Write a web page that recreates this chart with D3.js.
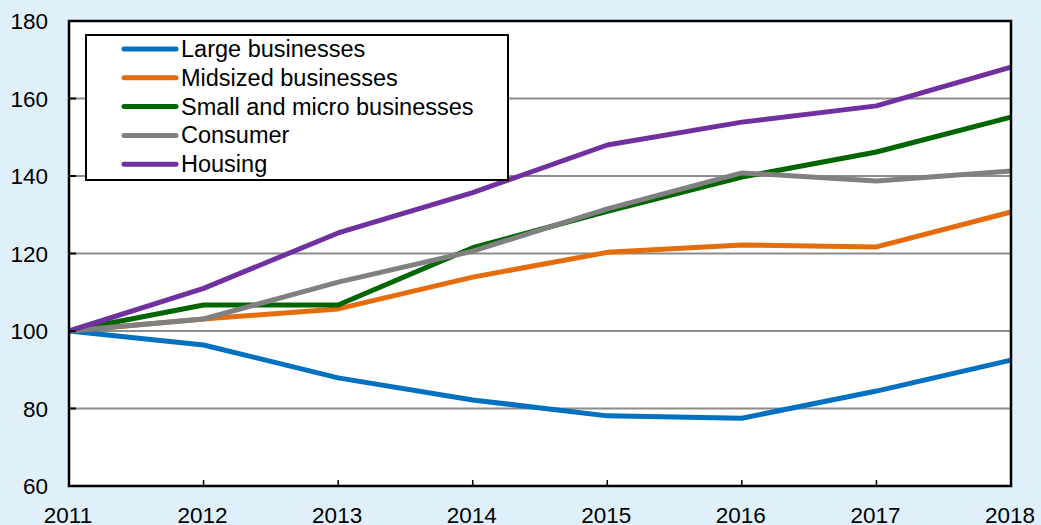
<!DOCTYPE html>
<html>
<head>
    <script src="https://d3js.org/d3.v7.min.js"></script>
    <style>
        body { margin: 0; background: #dff0fb; }
        svg { display: block; font-family: "Liberation Sans", Arial, sans-serif; }
    </style>
</head>
<body>
<div id="chart"></div>
<script>
    // chart data
    const years = [2011, 2012, 2013, 2014, 2015, 2016, 2017, 2018];
    const largeBusinesses = [100, 96.4, 87.9, 82.2, 78.1, 77.5, 84.5, 92.5];
    const midsizedBusinesses = [100, 103.1, 105.7, 113.9, 120.3, 122.2, 121.7, 130.7];
    const smallMicroBusinesses = [100, 106.7, 106.7, 121.5, 130.9, 139.7, 146.2, 155.2];
    const consumer = [100, 103.1, 112.6, 120.6, 131.5, 140.8, 138.7, 141.3];
    const housing = [100, 111.0, 125.3, 135.7, 148.0, 153.9, 158.1, 168.1];
    const seriesNames = ["Large businesses", "Midsized businesses", "Small and micro businesses", "Consumer", "Housing"];
    const seriesColors = ["#0070c0", "#e46c0a", "#006600", "#808080", "#7030a0"];
    const yTicks = [60, 80, 100, 120, 140, 160, 180];

    const seriesValues = [largeBusinesses, midsizedBusinesses, smallMicroBusinesses, consumer, housing];
    const series = seriesNames.map((name, i) => ({ name: name, color: seriesColors[i], values: seriesValues[i] }));

    const width = 1041, height = 525;
    const margin = { top: 21, right: 30, bottom: 39, left: 69 };

    const svg = d3.select("#chart").append("svg")
        .attr("width", width)
        .attr("height", height);

    const x = d3.scaleLinear()
        .domain(d3.extent(years))
        .range([margin.left, width - margin.right]);

    const y = d3.scaleLinear()
        .domain([60, 180])
        .range([height - margin.bottom, margin.top]);

    // plot area
    svg.append("rect")
        .attr("x", x(2011)).attr("y", y(180))
        .attr("width", x(2018) - x(2011))
        .attr("height", y(60) - y(180))
        .attr("fill", "#fff");

    // gridlines
    svg.append("g")
        .selectAll("line")
        .data(yTicks.filter(d => d > 60 && d < 180))
        .join("line")
        .attr("x1", x(2011)).attr("x2", x(2018))
        .attr("y1", d => y(d)).attr("y2", d => y(d))
        .attr("stroke", "#8c8c8c")
        .attr("stroke-width", 2);

    // lines
    const line = d3.line()
        .x((d, i) => x(years[i]))
        .y(d => y(d));

    svg.append("g")
        .selectAll("path")
        .data(series)
        .join("path")
        .attr("d", d => line(d.values))
        .attr("fill", "none")
        .attr("stroke", d => d.color)
        .attr("stroke-width", 5)
        .attr("stroke-linejoin", "round");

    // frame
    svg.append("rect")
        .attr("x", x(2011)).attr("y", y(180))
        .attr("width", x(2018) - x(2011))
        .attr("height", y(60) - y(180))
        .attr("fill", "none")
        .attr("stroke", "#000")
        .attr("stroke-width", 2.5);

    // inner ticks
    svg.append("g")
        .selectAll("line")
        .data(yTicks.filter(d => d > 60 && d < 180))
        .join("line")
        .attr("x1", x(2011)).attr("x2", x(2011) + 7)
        .attr("y1", d => y(d)).attr("y2", d => y(d))
        .attr("stroke", "#000")
        .attr("stroke-width", 2);

    svg.append("g")
        .selectAll("line")
        .data(years.slice(1, -1))
        .join("line")
        .attr("x1", d => x(d)).attr("x2", d => x(d))
        .attr("y1", y(60)).attr("y2", y(60) - 6)
        .attr("stroke", "#000")
        .attr("stroke-width", 1.5);

    // tick labels
    svg.append("g")
        .selectAll("text")
        .data(yTicks)
        .join("text")
        .attr("x", 48)
        .attr("y", d => y(d) + 8)
        .attr("text-anchor", "end")
        .attr("font-size", 22.5)
        .attr("fill", "#000")
        .text(d => d);

    svg.append("g")
        .selectAll("text")
        .data(years)
        .join("text")
        .attr("x", d => x(d) - 1)
        .attr("y", 523)
        .attr("text-anchor", "middle")
        .attr("font-size", 22.5)
        .attr("fill", "#000")
        .text(d => d);

    // legend
    const legend = svg.append("g");
    legend.append("rect")
        .attr("x", 86).attr("y", 35)
        .attr("width", 422).attr("height", 145)
        .attr("fill", "#fff")
        .attr("stroke", "#000")
        .attr("stroke-width", 2);

    const rows = legend.selectAll("g.row")
        .data(series)
        .join("g")
        .attr("class", "row")
        .attr("transform", (d, i) => `translate(0,${49 + i * 28.8})`);

    rows.append("line")
        .attr("x1", 124).attr("x2", 176)
        .attr("stroke", d => d.color)
        .attr("stroke-width", 5)
        .attr("stroke-linecap", "round");

    rows.append("text")
        .attr("x", 181)
        .attr("y", 8)
        .attr("font-size", 23.5)
        .attr("fill", "#000")
        .text(d => d.name);
</script>
</body>
</html>
